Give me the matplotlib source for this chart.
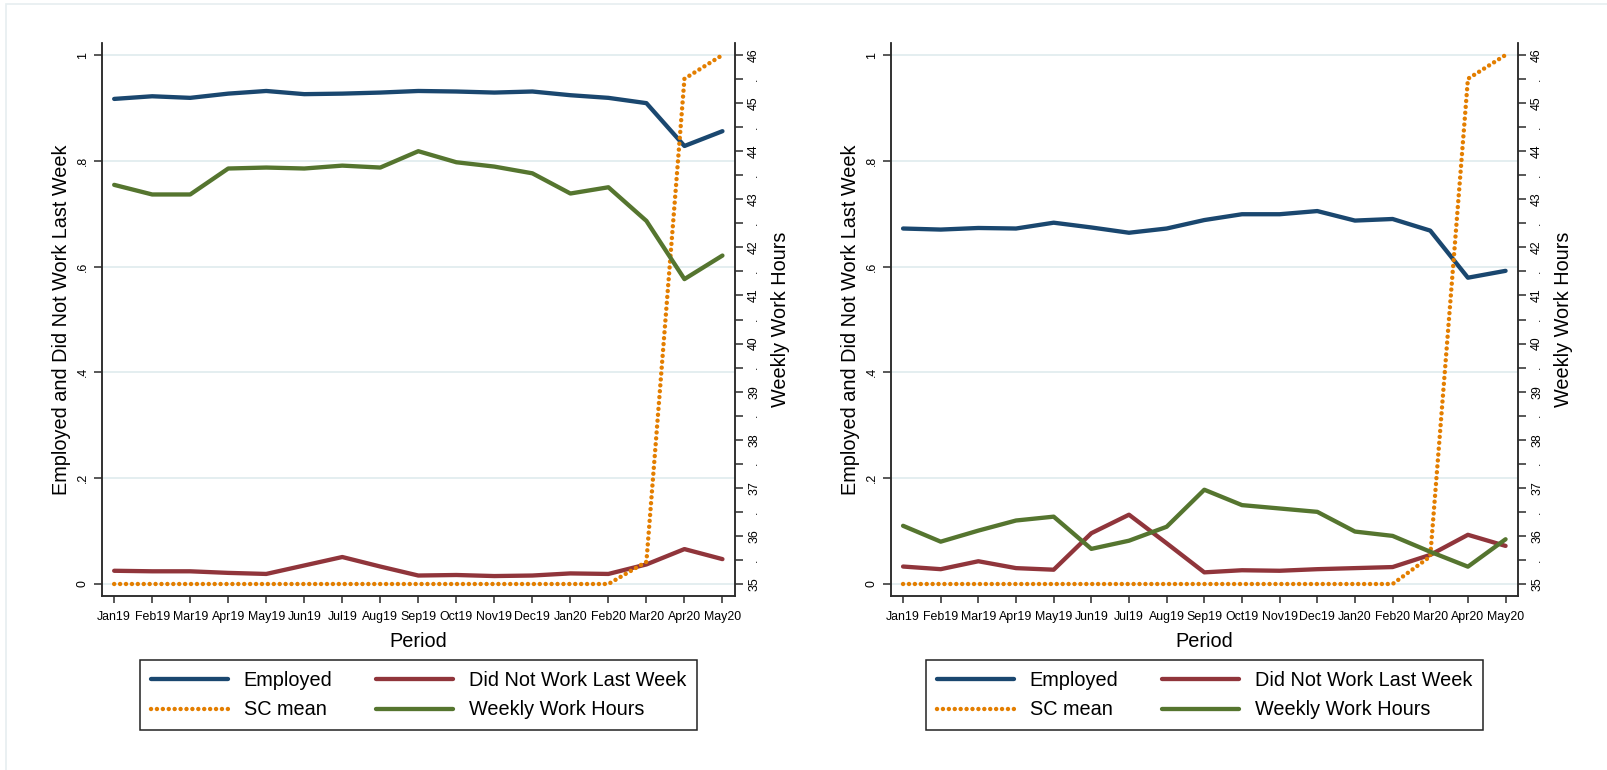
import matplotlib
matplotlib.use("Agg")
import matplotlib.pyplot as plt
from matplotlib.patches import Rectangle

plt.rcParams['font.family'] = ['Liberation Sans', 'DejaVu Sans']

periods = ["Jan19", "Feb19", "Mar19", "Apr19", "May19", "Jun19", "Jul19", "Aug19",
           "Sep19", "Oct19", "Nov19", "Dec19", "Jan20", "Feb20", "Mar20", "Apr20", "May20"]

# Left panel
employed_a = [0.917, 0.922, 0.919, 0.927, 0.932, 0.926, 0.927, 0.929, 0.932, 0.931,
              0.929, 0.931, 0.924, 0.919, 0.909, 0.828, 0.856]
notwork_a = [0.025, 0.024, 0.024, 0.021, 0.019, 0.035, 0.051, 0.033, 0.016, 0.017,
             0.015, 0.016, 0.020, 0.019, 0.037, 0.066, 0.047]
sc_a = [0, 0, 0, 0, 0, 0, 0, 0, 0, 0, 0, 0, 0, 0, 0.042, 0.955, 1.0]
hours_a = [43.30, 43.10, 43.10, 43.64, 43.66, 43.64, 43.70, 43.66, 44.00, 43.77,
           43.68, 43.54, 43.12, 43.25, 42.55, 41.34, 41.83]

# Right panel
employed_b = [0.672, 0.670, 0.673, 0.672, 0.683, 0.674, 0.664, 0.672, 0.688, 0.699,
              0.699, 0.705, 0.687, 0.690, 0.668, 0.579, 0.592]
notwork_b = [0.033, 0.028, 0.043, 0.030, 0.027, 0.096, 0.131, 0.077, 0.022, 0.026,
             0.025, 0.028, 0.030, 0.032, 0.055, 0.093, 0.072]
sc_b = [0, 0, 0, 0, 0, 0, 0, 0, 0, 0, 0, 0, 0, 0, 0.052, 0.955, 1.0]
hours_b = [36.21, 35.88, 36.11, 36.32, 36.40, 35.73, 35.90, 36.19, 36.96, 36.64,
           36.57, 36.50, 36.09, 36.00, 35.67, 35.36, 35.93]

left_ticks = [0, 0.2, 0.4, 0.6, 0.8, 1.0]
left_ticklabels = ["0", ".2", ".4", ".6", ".8", "1"]
right_ticks = [35 + 0.5 * i for i in range(23)]
right_ticklabels = [str(int(v)) if float(v).is_integer() else "." for v in right_ticks]

C_EMP = "#1a476f"
C_NW = "#90353b"
C_SC = "#e37e00"
C_HRS = "#55752f"
C_GRID = "#e4eef0"
C_SPINE = "#2b2b2b"

W, H = 1607, 770
fig = plt.figure(figsize=(W / 100, H / 100), dpi=100)

# faint outer frame
fig.patches.append(Rectangle((6 / W, -0.01), 1.02, 1.01 - 4 / H, transform=fig.transFigure,
                             fill=False, edgecolor="#e6eef0", lw=1.2))

panels = [
    (102, 735, employed_a, notwork_a, sc_a, hours_a),
    (891, 1518, employed_b, notwork_b, sc_b, hours_b),
]

LW = 3.1
TITLE_FS = 14.3
top_px, bot_px = 43, 596
for (x0, x1, emp, nw, sc, hrs) in panels:
    ax = fig.add_axes([x0 / W, 1 - bot_px / H, (x1 - x0) / W, (bot_px - top_px) / H])
    ax2 = ax.twinx()
    x = list(range(len(periods)))

    ax.set_axisbelow(True)
    ax.yaxis.grid(True, color=C_GRID, lw=1.4)
    ax.xaxis.grid(False)

    l1, = ax.plot(x, emp, color=C_EMP, lw=LW, solid_capstyle='round', solid_joinstyle='round',
                  label="Employed", zorder=3)
    l2, = ax.plot(x, nw, color=C_NW, lw=LW, solid_capstyle='round', solid_joinstyle='round',
                  label="Did Not Work Last Week", zorder=3)
    l3, = ax.plot(x, sc, color=C_SC, lw=3.2, linestyle=(0, (0.01, 1.32)),
                  dash_capstyle='round', label="SC mean", zorder=4)
    l4, = ax2.plot(x, hrs, color=C_HRS, lw=LW, solid_capstyle='round', solid_joinstyle='round',
                   label="Weekly Work Hours", zorder=3)

    ax.set_xlim(-0.32, len(periods) - 1 + 0.33)
    ax.set_ylim(-0.0227, 1.0227)
    ax2.set_ylim(34.75, 46.25)

    ax.set_xticks(x)
    ax.set_xticklabels(periods, fontsize=8.9)
    ax.set_yticks(left_ticks)
    ax.set_yticklabels(left_ticklabels, fontsize=8.9, rotation=90, va='center')
    ax2.set_yticks(right_ticks)
    ax2.set_yticklabels(right_ticklabels, fontsize=8.9, rotation=90, va='center')

    ax.tick_params(axis='x', length=5, width=1.1, color=C_SPINE, pad=6)
    ax.tick_params(axis='y', length=5.5, width=1.1, color=C_SPINE, pad=4)
    ax2.tick_params(axis='y', length=5.5, width=1.1, color=C_SPINE, pad=4)

    for a in (ax, ax2):
        a.spines['top'].set_visible(False)
        for s in ('left', 'right', 'bottom'):
            a.spines[s].set_color(C_SPINE)
            a.spines[s].set_linewidth(1.1)
    ax.patch.set_visible(False)

    ax.set_xlabel("Period", fontsize=TITLE_FS, labelpad=6)
    ax.set_ylabel("Employed and Did Not Work Last Week", fontsize=TITLE_FS, labelpad=4)
    ax2.set_ylabel("Weekly Work Hours", fontsize=TITLE_FS, labelpad=8)

    cx = (x0 + x1) / 2 / W
    leg = fig.legend(handles=[l1, l3, l2, l4], ncol=2, loc='center',
                     bbox_to_anchor=(cx, 1 - 695 / H), fontsize=TITLE_FS, frameon=True,
                     fancybox=False, edgecolor="#222222", framealpha=1,
                     handlelength=3.9, handletextpad=0.76, columnspacing=2.2,
                     labelspacing=0.55, borderpad=0.55)
    leg.get_frame().set_linewidth(1.1)

fig.savefig("out.png", dpi=100, facecolor="white")
